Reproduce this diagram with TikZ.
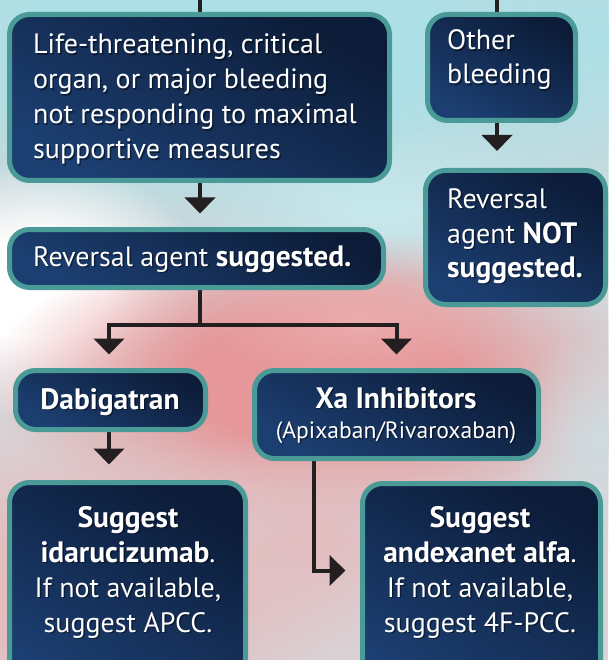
\documentclass[tikz,border=0pt]{standalone}
\usepackage{fontspec}
\setmainfont{PT Sans}
\usetikzlibrary{arrows.meta,fadings,calc}
\definecolor{navyT}{HTML}{0C1C38}
\definecolor{navyB}{HTML}{1C3F72}
\definecolor{tealB}{HTML}{4A9A97}
\definecolor{ink}{HTML}{231F20}
\definecolor{bgbase}{HTML}{D9D3D6}
\definecolor{bgcyan}{HTML}{ADE0E6}
\definecolor{bgred}{HTML}{E69799}
\definecolor{bgpink}{HTML}{E4BDBF}
\definecolor{bggrey}{HTML}{CFDCE0}
\tikzfading[name=blobfade, inner color=transparent!0, outer color=transparent!100]
\pgfdeclareradialshading{plateaushade}{\pgfpointorigin}{color(0bp)=(pgftransparent!0); color(10bp)=(pgftransparent!0); color(25bp)=(pgftransparent!100); color(50bp)=(pgftransparent!100)}
\pgfdeclarefading{plateau}{\pgfuseshading{plateaushade}}
\pgfdeclarelayer{bg}\pgfdeclarelayer{lines}\pgfsetlayers{bg,lines,main}
\newcommand{\tline}[5]{%
  \node[txtshadow, anchor=#2] (#1s) at ([xshift=1.5pt,yshift=-1.8pt]#3,#4) {#5};
  \node[txt, anchor=#2] (#1) at (#3,#4) {#5};}
\newcommand{\bt}[1]{{\fontsize{29.5}{32}\selectfont\bfseries #1}}
\begin{document}
\begin{tikzpicture}[x=1pt,y=-1pt,
  box/.style={draw=tealB, line width=5pt, rounded corners=20pt,
    top color=navyT, bottom color=navyB, shading angle=-30, inner sep=0pt},
  txt/.style={text=white, font=\fontsize{28}{32}\selectfont, inner sep=0pt},
  txtshadow/.style={text=black, text opacity=0.45, font=\fontsize{28}{32}\selectfont, inner sep=0pt},
  conn/.style={draw=ink, line width=4pt},
  arr/.style={conn, -{Triangle[width=30pt,length=16pt]}}]
\useasboundingbox (0,0) rectangle (608,660);
\clip (0,0) rectangle (608,660);
% background
\begin{pgfonlayer}{bg}
\fill[bgbase] (0,0) rectangle (608,660);
\fill[bggrey, path fading=blobfade] (500,200) ellipse [x radius=260pt, y radius=260pt];
\fill[bgcyan, path fading=plateau] (230,40) ellipse [x radius=520pt, y radius=240pt];
\fill[bgcyan, path fading=blobfade] (600,40) ellipse [x radius=160pt, y radius=160pt];
\fill[bgcyan!70, path fading=blobfade] (380,210) ellipse [x radius=200pt, y radius=90pt];
\fill[white, path fading=plateau] (40,290) ellipse [x radius=170pt, y radius=130pt];
\fill[bgred, path fading=plateau] (320,380) ellipse [x radius=330pt, y radius=150pt];
\fill[bgred!80, path fading=blobfade] (360,320) ellipse [x radius=160pt, y radius=60pt];
\fill[bgpink, path fading=plateau] (90,590) ellipse [x radius=260pt, y radius=170pt];
\fill[bgpink, path fading=blobfade] (320,540) ellipse [x radius=180pt, y radius=120pt];
\fill[bggrey, path fading=blobfade] (600,440) ellipse [x radius=90pt, y radius=120pt];
\end{pgfonlayer}
% boxes
\node[box, minimum width=380pt, minimum height=166pt] (A) at (199.5,97.5) {};
\node[box, minimum width=148pt, minimum height=106pt] (B) at (501.5,67.5) {};
\node[box, minimum width=374pt, minimum height=58pt] (C) at (196.5,258.5) {};
\node[box, minimum width=180pt, minimum height=134pt] (D) at (515.5,237.5) {};
\node[box, minimum width=190pt, minimum height=59pt] (E) at (110.5,400) {};
\node[box, minimum width=284pt, minimum height=88pt] (F) at (396.5,414.5) {};
\node[box, minimum width=236pt, minimum height=217pt] (G) at (127.5,591) {};
\node[box, minimum width=238pt, minimum height=217pt] (H) at (481.5,592) {};
% texts
\tline{A1}{base west}{33}{54}{Life-threatening, critical}
\tline{A2}{base west}{33}{89}{organ, or major bleeding}
\tline{A3}{base west}{33}{124}{not responding to maximal}
\tline{A4}{base west}{33}{159}{supportive measures}
\tline{B1}{base west}{447}{50}{Other}
\tline{B2}{base west}{447}{84}{bleeding}
\tline{C1}{base west}{33}{266}{Reversal agent \bt{suggested.}}
\tline{D1}{base west}{447}{208}{Reversal}
\tline{D2}{base west}{447}{243}{agent \bt{NOT}}
\tline{D3}{base west}{447}{277}{\bt{suggested.}}
\tline{E1}{base}{110}{409}{\bt{Dabigatran}}
\tline{F1}{base}{396}{408}{\bt{Xa Inhibitors}}
\tline{F2}{base}{396}{438}{\fontsize{23.6}{26}\selectfont(Apixaban/Rivaroxaban)}
\tline{G1}{base}{128}{527}{\bt{Suggest}}
\tline{G2}{base}{128}{562}{\bt{idarucizumab}.}
\tline{G3}{base}{128}{597}{If not available,}
\tline{G4}{base}{128}{632}{suggest APCC.}
\tline{H1}{base}{480}{527}{\bt{Suggest}}
\tline{H2}{base}{480}{562}{\bt{andexanet alfa}.}
\tline{H3}{base}{480}{597}{If not available,}
\tline{H4}{base}{480}{632}{suggest 4F-PCC.}
% connectors
\begin{pgfonlayer}{lines}
\coordinate (inA) at (200,0);
\coordinate (inB) at (497,0);
\coordinate (split) at (200,325);
\draw[conn] (inA) -- (inA |- A.north);
\draw[conn] (inB) -- (inB |- B.north);
\draw[arr, shorten >=13.5pt] (A.south -| inA) -- (inA |- C.north);
\draw[arr, shorten >=17pt] (B.south -| inB) -- (inB |- D.north);
\draw[conn] (C.south -| split) -- (split);
\draw[arr, shorten >=13.5pt] (split) -| ([xshift=-1.5pt]E.north);
\draw[arr, shorten >=13.5pt] (split) -| (F.north);
\draw[arr, shorten >=15.5pt] ([xshift=-1.5pt]E.south) -- ([xshift=-1.5pt]E.south |- G.north);
\draw[arr, shorten >=14.5pt] ([xshift=-82.5pt]F.south) |- ([yshift=-89.5pt]H.north west);
\end{pgfonlayer}
\end{tikzpicture}
\end{document}
